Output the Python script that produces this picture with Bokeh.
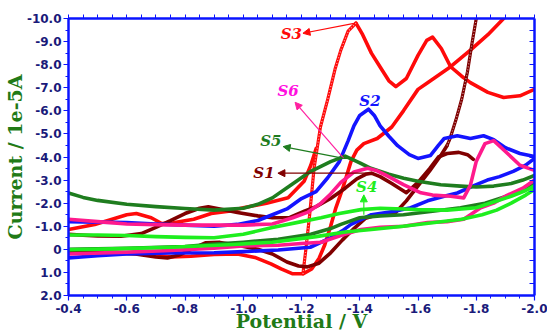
from bokeh.plotting import figure
from bokeh.models import Range1d, LinearAxis, FixedTicker, Label, Arrow, NormalHead
from bokeh.embed import file_html
from bokeh.resources import INLINE
import numpy as np

# ---------------- data ----------------
x_ticks = [-0.4, -0.6, -0.8, -1.0, -1.2, -1.4, -1.6, -1.8, -2.0]
x_tick_labels = ["-0.4", "-0.6", "-0.8", "-1.0", "-1.2", "-1.4", "-1.6", "-1.8", "-2.0"]
y_ticks = [-10, -9, -8, -7, -6, -5, -4, -3, -2, -1, 0, 1, 2]
y_tick_labels = ["-10.0", "-9.0", "-8.0", "-7.0", "-6.0", "-5.0", "-4.0", "-3.0",
                 "-2.0", "-1.0", "0", "1.0", "2.0"]
x_title = "Potential / V"
y_title = "Current / 1e-5A"

# S1 (maroon)
s1_up_x = [-0.40, -0.50, -0.58, -0.65, -0.70, -0.75, -0.80, -0.85, -0.88, -0.92, -0.98, -1.05,
           -1.10, -1.16, -1.21, -1.25, -1.30, -1.35, -1.39, -1.42, -1.44, -1.47, -1.51, -1.56,
           -1.60, -1.64, -1.67, -1.70, -1.74, -1.77, -1.79]
s1_up_y = [-0.65, -0.58, -0.57, -0.68, -0.95, -1.24, -1.55, -1.78, -1.84, -1.75, -1.60, -1.45,
           -1.37, -1.38, -1.65, -1.85, -2.20, -2.65, -3.05, -3.25, -3.30, -3.15, -2.85, -2.45,
           -2.90, -3.50, -4.00, -4.15, -4.20, -4.10, -3.90]
s1_lo_x = [-0.40, -0.55, -0.63, -0.70, -0.74, -0.78, -0.83, -0.87, -0.92, -0.98, -1.05, -1.10,
           -1.15, -1.19, -1.22, -1.26, -1.30, -1.34, -1.38, -1.42, -1.46, -1.52, -1.56, -1.60,
           -1.64, -1.68, -1.70]
s1_lo_y = [0.10, 0.16, 0.20, 0.33, 0.37, 0.25, -0.05, -0.28, -0.30, -0.18, 0.00, 0.20,
           0.55, 0.72, 0.76, 0.60, 0.15, -0.40, -0.90, -1.35, -1.50, -1.55, -2.10, -2.75,
           -3.40, -4.10, -4.50]
s1_steep_x = [-1.70, -1.71, -1.73, -1.75, -1.77, -1.785, -1.80, -1.81]
s1_steep_y = [-4.50, -4.80, -5.60, -6.50, -7.70, -8.90, -10.0, -10.6]

# S2 (blue)
s2_up_x = [-0.40, -0.50, -0.60, -0.70, -0.80, -0.90, -0.98, -1.05, -1.10, -1.15, -1.20, -1.25,
           -1.29, -1.33, -1.36, -1.38, -1.40, -1.43, -1.45, -1.47, -1.50, -1.53, -1.57, -1.60,
           -1.643, -1.67, -1.69, -1.735, -1.78, -1.825, -1.86, -1.90, -1.95, -2.00]
s2_up_y = [-1.20, -1.18, -1.16, -1.10, -1.05, -1.00, -1.08, -1.25, -1.50, -1.75, -2.20, -2.50,
           -3.10, -3.80, -4.70, -5.35, -5.80, -6.07, -5.80, -5.35, -4.90, -4.49, -4.10, -3.94,
           -4.07, -4.50, -4.80, -4.92, -4.80, -4.92, -4.75, -4.40, -4.15, -4.02]
s2_lo_x = [-0.40, -0.50, -0.60, -0.75, -0.90, -1.00, -1.12, -1.23, -1.30, -1.34, -1.37, -1.44,
           -1.52, -1.575, -1.633, -1.69, -1.735, -1.79, -1.838, -1.88, -1.927, -1.97, -2.00]
s2_lo_y = [0.37, 0.28, 0.20, 0.16, 0.15, 0.10, 0.03, -0.09, -0.50, -0.80, -1.08, -1.50,
           -1.65, -1.80, -2.10, -2.30, -2.44, -2.75, -3.00, -3.15, -3.38, -3.65, -3.94]

# S3 (red)
s3_up_x = [-0.40, -0.49, -0.547, -0.60, -0.633, -0.684, -0.72, -0.76, -0.83, -0.89, -0.95,
           -1.00, -1.08, -1.154, -1.209, -1.232, -1.25]
s3_up_y = [-0.86, -1.08, -1.29, -1.50, -1.55, -1.37, -1.12, -1.15, -1.30, -1.55, -1.65,
           -1.80, -2.00, -2.23, -2.95, -3.64, -4.36]
s3_rise_x = [-1.205, -1.215, -1.228, -1.243, -1.265, -1.29, -1.315, -1.335, -1.36, -1.387]
s3_rise_y = [1.06, 0.00, -1.50, -3.50, -5.30, -6.50, -7.80, -8.63, -9.45, -9.80]
s3_fwd_x = [-1.387, -1.41, -1.44, -1.47, -1.50, -1.524, -1.56, -1.60, -1.63, -1.65, -1.68,
            -1.712, -1.75, -1.78, -1.84, -1.894, -1.95, -2.00]
s3_fwd_y = [-9.80, -9.30, -8.50, -7.90, -7.30, -7.05, -7.40, -8.40, -9.05, -9.19, -8.70,
            -7.91, -7.50, -7.22, -6.80, -6.58, -6.65, -6.93]
s3_rev_x = [-1.93, -1.894, -1.84, -1.78, -1.712, -1.633, -1.60, -1.55, -1.51, -1.46, -1.414,
            -1.39, -1.37, -1.342, -1.318, -1.30, -1.28, -1.26, -1.235, -1.205, -1.17, -1.13,
            -1.095, -1.04, -0.98, -0.90, -0.82, -0.753, -0.70, -0.60, -0.50, -0.40]
s3_rev_y = [-10.7, -10.0, -9.30, -8.63, -7.91, -7.22, -6.93, -6.00, -5.30, -4.80, -4.58,
            -4.30, -3.81, -2.66, -1.80, -1.00, -0.20, 0.40, 0.85, 1.06, 1.06, 0.85,
            0.63, 0.35, 0.20, 0.22, 0.30, 0.33, 0.28, 0.15, 0.10, 0.10]

# S4 (lime)
s4_up_x = [-0.40, -0.50, -0.60, -0.70, -0.80, -0.90, -1.00, -1.10, -1.20, -1.267, -1.33,
           -1.404, -1.47, -1.55, -1.60, -1.70, -1.80, -1.86, -1.92, -1.97, -2.00]
s4_up_y = [-0.62, -0.62, -0.60, -0.55, -0.52, -0.50, -0.65, -0.95, -1.20, -1.37, -1.55,
           -1.72, -1.78, -1.75, -1.72, -1.70, -1.80, -2.05, -2.30, -2.55, -2.75]
s4_lo_x = [-0.40, -0.55, -0.75, -0.95, -1.10, -1.25, -1.35, -1.44, -1.55, -1.65, -1.75,
           -1.82, -1.87, -1.92, -1.97, -2.00]
s4_lo_y = [0.02, -0.02, -0.09, -0.20, -0.31, -0.55, -0.75, -0.86, -1.00, -1.15, -1.30,
           -1.50, -1.70, -2.00, -2.35, -2.60]

# S5 (dark green)
s5_up_x = [-0.40, -0.45, -0.50, -0.60, -0.70, -0.80, -0.90, -1.00, -1.05, -1.10, -1.164,
           -1.232, -1.30, -1.35, -1.40, -1.438, -1.50, -1.551, -1.60, -1.678, -1.746, -1.80,
           -1.86, -1.92, -1.96, -2.00]
s5_up_y = [-2.44, -2.25, -2.12, -1.95, -1.85, -1.77, -1.70, -1.78, -1.95, -2.23, -2.79,
           -3.38, -3.80, -4.04, -3.75, -3.51, -3.25, -3.08, -2.95, -2.80, -2.74, -2.70,
           -2.74, -2.85, -3.00, -3.20]
s5_lo_x = [-0.40, -0.60, -0.80, -0.89, -1.00, -1.12, -1.232, -1.30, -1.335, -1.40, -1.47,
           -1.55, -1.65, -1.746, -1.83, -1.918, -1.96, -2.00]
s5_lo_y = [0.00, -0.05, -0.12, -0.22, -0.31, -0.44, -0.65, -0.90, -1.08, -1.37, -1.45,
           -1.50, -1.65, -1.80, -2.00, -2.36, -2.60, -2.90]

# S6 (pink)
s6_up_x = [-0.40, -0.50, -0.60, -0.70, -0.80, -0.90, -1.00, -1.10, -1.17, -1.22, -1.267,
           -1.30, -1.335, -1.38, -1.427, -1.46, -1.496, -1.55, -1.61, -1.65, -1.712, -1.757,
           -1.78, -1.80, -1.83, -1.86, -1.90, -1.95, -2.00]
s6_up_y = [-1.30, -1.20, -1.10, -1.07, -1.05, -1.05, -1.05, -1.10, -1.37, -1.60, -2.00,
           -2.40, -2.90, -3.35, -3.51, -3.40, -3.17, -2.80, -2.45, -2.35, -2.30, -2.23,
           -2.78, -3.81, -4.58, -4.71, -4.24, -3.64, -3.42]
s6_lo_x = [-2.00, -1.96, -1.90, -1.86, -1.815, -1.78, -1.757, -1.70, -1.633, -1.55, -1.47,
           -1.404, -1.335, -1.267, -1.20, -1.12, -1.00, -0.90, -0.75, -0.60, -0.40]
s6_lo_y = [-3.00, -2.65, -2.30, -2.00, -1.80, -1.50, -1.30, -1.20, -1.16, -1.00, -0.95,
           -0.86, -0.60, -0.31, -0.25, -0.18, -0.15, -0.05, 0.05, 0.12, 0.20]

# ---------------- colours / styles ----------------
C_S1 = "#800000"
C_S2 = "#1414ff"
C_S3 = "#ff0a0a"
C_S4 = "#1eee1e"
C_S5 = "#1f7d1f"
C_S6 = "#ff1a8c"
AXIS_BLUE = "#0a14ff"
TICK_TEXT = "#1a1a7a"
TITLE_GREEN = "#217a17"

p = figure(width=547, height=334, output_backend="svg", toolbar_location=None,
           x_range=Range1d(-0.4, -2.0), y_range=Range1d(2.0, -10.0),
           min_border_left=67, min_border_right=13, min_border_top=18, min_border_bottom=35)
p.xgrid.visible = False
p.ygrid.visible = False
p.outline_line_color = None
p.background_fill_color = "white"
p.border_fill_color = "white"

x_minor = [round(v, 2) for v in np.arange(-0.4, -2.0001, -0.05)]
y_minor = [round(v, 2) for v in np.arange(-10.0, 2.0001, 0.5)]


def base_axis(ax):
    ax.axis_line_color = AXIS_BLUE
    ax.axis_line_width = 2.5
    ax.major_tick_line_color = AXIS_BLUE
    ax.minor_tick_line_color = AXIS_BLUE
    ax.major_tick_line_width = 1.2
    ax.minor_tick_line_width = 1


xa = p.xaxis[0]
base_axis(xa)
xa.ticker = FixedTicker(ticks=x_ticks, minor_ticks=x_minor)
xa.major_label_overrides = {t: l for t, l in zip(x_ticks, x_tick_labels)}
xa.major_tick_in = 0
xa.major_tick_out = 5
xa.minor_tick_in = 0
xa.minor_tick_out = 3
xa.major_label_text_font = "DejaVu Sans"
xa.major_label_text_font_style = "bold"
xa.major_label_text_font_size = "12px"
xa.major_label_text_color = TICK_TEXT
xa.major_label_standoff = 3
xa.axis_label = x_title
xa.axis_label_text_font = "DejaVu Serif"
xa.axis_label_text_font_style = "bold"
xa.axis_label_text_font_size = "19px"
xa.axis_label_text_color = TITLE_GREEN
xa.axis_label_standoff = -6

ya = p.yaxis[0]
base_axis(ya)
ya.ticker = FixedTicker(ticks=y_ticks, minor_ticks=y_minor)
ya.major_label_overrides = {t: l for t, l in zip(y_ticks, y_tick_labels)}
ya.major_tick_in = 0
ya.major_tick_out = 5
ya.minor_tick_in = 0
ya.minor_tick_out = 3
ya.major_label_text_font = "DejaVu Sans"
ya.major_label_text_font_style = "bold"
ya.major_label_text_font_size = "12px"
ya.major_label_text_color = TICK_TEXT
ya.major_label_standoff = 2
ya.axis_label = y_title
ya.axis_label_text_font = "DejaVu Serif"
ya.axis_label_text_font_style = "bold"
ya.axis_label_text_font_size = "19px"
ya.axis_label_text_color = TITLE_GREEN
ya.axis_label_standoff = -2

# top and right axes: tick marks only (all ticks given as minor ticks -> no labels)
top = LinearAxis(ticker=FixedTicker(ticks=[], minor_ticks=x_minor))
base_axis(top)
top.minor_tick_in = 0
top.minor_tick_out = 4
p.add_layout(top, "above")
right = LinearAxis(ticker=FixedTicker(ticks=[], minor_ticks=y_minor))
base_axis(right)
right.minor_tick_in = 5
right.minor_tick_out = 0
p.add_layout(right, "right")

LW = 3.6


def curve(xs, ys, color, hatched=False, lw=LW):
    p.line(xs, ys, line_color=color, line_width=lw, line_join="round", line_cap="round")
    if hatched:
        p.line(xs, ys, line_color="white", line_alpha=0.6, line_width=1.3, line_dash="1 2")


# draw order
curve(s3_up_x, s3_up_y, C_S3)
curve(s3_fwd_x, s3_fwd_y, C_S3)
curve(s3_rev_x, s3_rev_y, C_S3)
curve(s3_rise_x, s3_rise_y, C_S3, hatched=True, lw=3.2)
curve(s1_up_x, s1_up_y, C_S1)
curve(s1_lo_x, s1_lo_y, C_S1)
curve(s1_steep_x, s1_steep_y, C_S1, hatched=True, lw=3.2)
curve(s2_up_x, s2_up_y, C_S2)
curve(s2_lo_x, s2_lo_y, C_S2)
curve(s5_up_x, s5_up_y, C_S5)
curve(s5_lo_x, s5_lo_y, C_S5)
curve(s6_up_x, s6_up_y, C_S6)
curve(s6_lo_x, s6_lo_y, C_S6)
curve(s4_up_x, s4_up_y, C_S4)
curve(s4_lo_x, s4_lo_y, C_S4)


# ---------------- annotations ----------------
def arrow(x0, y0, x1, y1, color):
    p.add_layout(Arrow(end=NormalHead(size=7, fill_color=color, line_color=color, line_width=1),
                       x_start=x0, y_start=y0, x_end=x1, y_end=y1,
                       line_color=color, line_width=1.2))


def tag(x, y, text, color):
    p.add_layout(Label(x=x, y=y, text=text, text_color=color, text_font="DejaVu Serif",
                       text_font_style="bold italic", text_font_size="15px",
                       text_align="center", text_baseline="middle"))


arrow(-1.38, -9.79, -1.205, -9.36, C_S3)
tag(-1.165, -9.32, "S3", C_S3)
arrow(-1.345, -3.94, -1.178, -6.37, "#ff20a0")
tag(-1.154, -6.84, "S6", "#ff10e0")
arrow(-1.345, -3.94, -1.137, -4.45, C_S5)
tag(-1.095, -4.70, "S5", C_S5)
arrow(-1.438, -3.30, -1.119, -3.30, C_S1)
tag(-1.071, -3.30, "S1", C_S1)
tag(-1.435, -6.41, "S2", C_S2)
arrow(-1.414, -1.50, -1.414, -2.36, C_S4)
tag(-1.424, -2.72, "S4", C_S4)

open("out.html", "w").write(file_html(p, INLINE))
